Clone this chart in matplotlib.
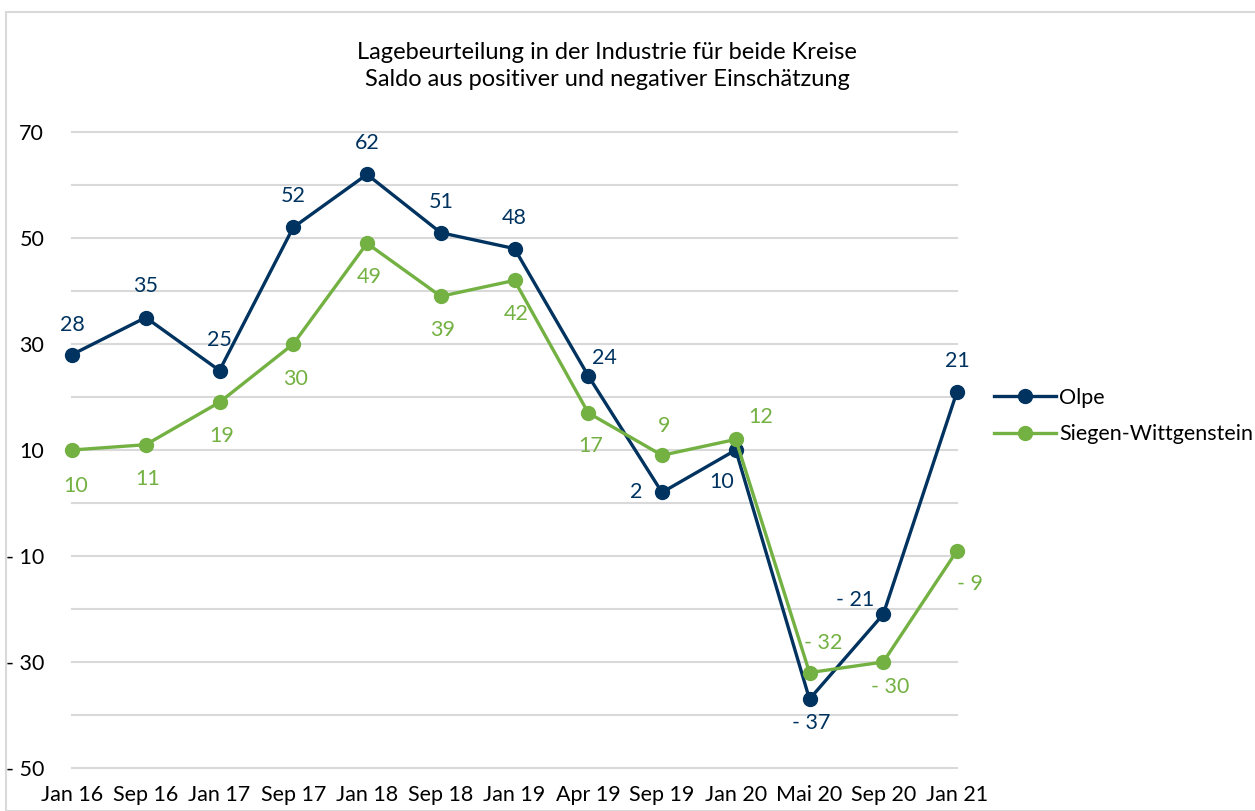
import matplotlib
matplotlib.use("Agg")
import matplotlib.pyplot as plt
from matplotlib.patches import Rectangle

# --- data ---
periods = ["Jan 16", "Sep 16", "Jan 17", "Sep 17", "Jan 18", "Sep 18", "Jan 19",
           "Apr 19", "Sep 19", "Jan 20", "Mai 20", "Sep 20", "Jan 21"]
olpe = [28, 35, 25, 52, 62, 51, 48, 24, 2, 10, -37, -21, 21]
siegen = [10, 11, 19, 30, 49, 39, 42, 17, 9, 12, -32, -30, -9]

title = "Lagebeurteilung in der Industrie für beide Kreise\nSaldo aus positiver und negativer Einschätzung"

# label offsets in pixels (dx, dy; dy positive = down)
olpe_off = [(0, -30), (0, -31), (0, -30), (0, -31), (0, -31), (0, -31), (0, -31),
            (16, -18), (-26, 0), (-14, 32), (2, 24), (-28, -14), (0, -31)]
siegen_off = [(4, 36), (2, 34), (2, 34), (2, 35), (2, 34), (2, 34), (2, 34),
              (2, 33), (2, -29), (25, -22), (14, -30), (7, 25), (13, 33)]

c_olpe = "#00335f"
c_sieg = "#74b143"
c_grid = "#d9d9d9"

plt.rcParams["font.family"] = ["Lato", "DejaVu Sans"]

fig = plt.figure(figsize=(12.55, 8.11), dpi=100)
ax = fig.add_axes([72 / 1255, 1 - 768 / 811, (957 - 72) / 1255, (768 - 132) / 811])

# chart border
fig.patches.append(Rectangle((6 / 1255, 0), 1.2, 1 - 12 / 811, transform=fig.transFigure,
                             fill=False, edgecolor=c_grid, linewidth=1.5))

x = list(range(len(periods)))
ax.set_xlim(0, len(periods) - 1)
ax.set_ylim(-50, 70)
for g in range(-50, 71, 10):
    ax.axhline(g, color=c_grid, linewidth=1.5, zorder=0, clip_on=False)

ax.plot(x, olpe, color=c_olpe, linewidth=2.4, marker="o", markersize=10,
        label="Olpe", zorder=3, clip_on=False)
ax.plot(x, siegen, color=c_sieg, linewidth=2.4, marker="o", markersize=10,
        label="Siegen-Wittgenstein", zorder=3, clip_on=False)


def fmt(v):
    return f"- {abs(v)}" if v < 0 else str(v)


for xi, v, (dx, dy) in zip(x, olpe, olpe_off):
    ax.annotate(fmt(v), (xi, v), xytext=(dx * 0.72, -dy * 0.72), textcoords="offset points",
                ha="center", va="center", fontsize=15.5, color=c_olpe, zorder=4)
for xi, v, (dx, dy) in zip(x, siegen, siegen_off):
    ax.annotate(fmt(v), (xi, v), xytext=(dx * 0.72, -dy * 0.72), textcoords="offset points",
                ha="center", va="center", fontsize=15.5, color=c_sieg, zorder=4)

ax.set_xticks(x)
ax.set_xticklabels(periods, fontsize=15.5)
yt = list(range(-50, 71, 20))
ax.set_yticks(yt)
ax.set_yticklabels([fmt(v) for v in yt], fontsize=15.5)
ax.tick_params(length=0, pad=12)
ax.tick_params(axis="y", pad=20)
for s in ax.spines.values():
    s.set_visible(False)

fig.text(607 / 1255, 1 - 66 / 811, title, ha="center", va="center", fontsize=17,
         linespacing=1.3)

ax.legend(loc="center left", bbox_to_anchor=(985 / 1255, 1 - 416 / 811),
          bbox_transform=fig.transFigure, frameon=False, fontsize=15.5,
          handlelength=2.9, handletextpad=0.15, labelspacing=0.75, borderaxespad=0)

fig.savefig("out.png", dpi=100)
